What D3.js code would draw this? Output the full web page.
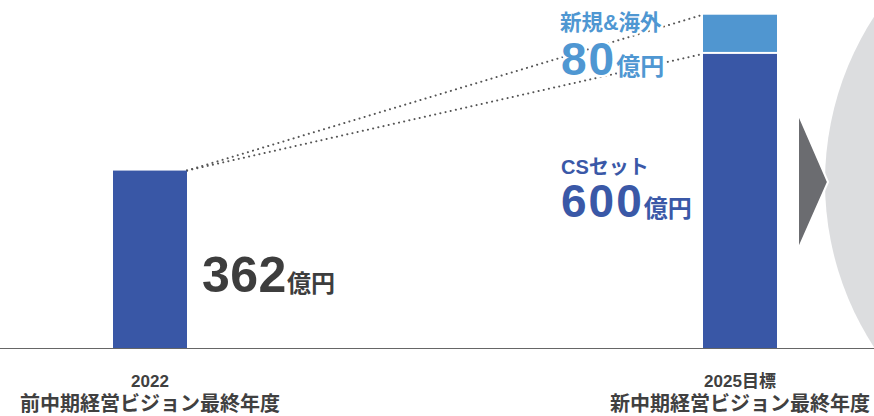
<!DOCTYPE html>
<html>
<head>
<meta charset="utf-8">
<script src="https://cdn.jsdelivr.net/npm/d3@7"></script>
<style>
  body { margin: 0; background: #fff; }
  svg { display: block; }
  text { font-family: "Liberation Sans", "Noto Sans CJK JP", sans-serif; font-weight: bold; }
</style>
</head>
<body>
<svg id="chart" width="874" height="416"></svg>
<script>
// data
var categories = ["2022", "2025"];
var yearLabels = ["2022", "2025目標"];
var visionLabels = ["前中期経営ビジョン最終年度", "新中期経営ビジョン最終年度"];
var csValues = [362, 600];
var newValues = [0, 80];
var unit = "億円";
var segmentNames = ["CSセット", "新規&海外"];

var svg = d3.select("#chart");
var base = 348, barW = 74;

var x = d3.scalePoint().domain(categories).range([150, 740]);
var y = d3.scaleLinear().domain([0, 710]).range([base, 0]);

// grey circle and arrow at the right
svg.append("circle")
    .attr("cx", 1128).attr("cy", 182).attr("r", 303)
    .attr("fill", "#dcdddf");
svg.append("path")
    .attr("d", "M798,113 L828,182 L798,250 Z")
    .attr("fill", "#6b6c70")
    .attr("stroke", "#fff").attr("stroke-width", 2).attr("stroke-linejoin", "miter");

// dotted guide lines
var x0 = x("2022") + barW / 2, y0 = y(csValues[0]);
var x1 = x("2025") - barW / 2;
[csValues[1] + newValues[1], csValues[1]].forEach(function(v) {
    svg.append("line")
        .attr("x1", x0).attr("y1", y0)
        .attr("x2", x1).attr("y2", y(v))
        .attr("stroke", "#555").attr("stroke-width", 2)
        .attr("stroke-dasharray", "0.1,5.2").attr("stroke-linecap", "round");
});

// bars
svg.selectAll("rect.cs").data(categories).enter().append("rect")
    .attr("class", "cs")
    .attr("x", function(d) { return x(d) - barW / 2; })
    .attr("y", function(d, i) { return y(csValues[i]); })
    .attr("width", barW)
    .attr("height", function(d, i) { return base - y(csValues[i]); })
    .attr("fill", "#3957a6");

svg.selectAll("rect.nw").data(categories.filter(function(d, i) { return newValues[i] > 0; }))
    .enter().append("rect")
    .attr("class", "nw")
    .attr("x", function(d) { return x(d) - barW / 2; })
    .attr("y", function(d) { var i = categories.indexOf(d); return y(csValues[i] + newValues[i]); })
    .attr("width", barW)
    .attr("height", function(d) {
        var i = categories.indexOf(d);
        return y(csValues[i]) - y(csValues[i] + newValues[i]) - 2;
    })
    .attr("fill", "#5096d0");

// baseline
svg.append("line")
    .attr("x1", 0).attr("x2", 874).attr("y1", base + 0.5).attr("y2", base + 0.5)
    .attr("stroke", "#666").attr("stroke-width", 1);

// value labels
function valueLabel(px, py, value, color, size, spacing) {
    var t = svg.append("text")
        .attr("x", px).attr("y", py).attr("fill", color)
        .attr("stroke", "#fff").attr("stroke-width", 5)
        .attr("paint-order", "stroke").attr("stroke-linejoin", "round");
    t.append("tspan").attr("font-size", size).attr("letter-spacing", spacing).text(value);
    t.append("tspan").attr("font-size", 24).attr("letter-spacing", 0).text(unit);
}
function nameLabel(px, py, name, color, size) {
    svg.append("text")
        .attr("x", px).attr("y", py).attr("fill", color)
        .attr("font-size", size)
        .attr("stroke", "#fff").attr("stroke-width", 5)
        .attr("paint-order", "stroke").attr("stroke-linejoin", "round")
        .text(name);
}

valueLabel(202, 292, csValues[0], "#3d3d3d", 50, 0.5);
nameLabel(561, 174, segmentNames[0], "#3a58a7", 20);
valueLabel(561, 217, csValues[1], "#3a58a7", 46, 2);
nameLabel(560, 30, segmentNames[1], "#4f97d2", 21.5);
valueLabel(561, 75, newValues[1], "#4f97d2", 46, 2);

// category labels
svg.selectAll("text.year").data(categories).enter().append("text")
    .attr("class", "year")
    .attr("x", function(d) { return x(d); })
    .attr("y", 387)
    .attr("text-anchor", "middle")
    .attr("font-size", 17)
    .attr("fill", "#404040")
    .text(function(d, i) { return yearLabels[i]; });

svg.selectAll("text.vision").data(categories).enter().append("text")
    .attr("class", "vision")
    .attr("x", function(d) { return x(d); })
    .attr("y", 411)
    .attr("text-anchor", "middle")
    .attr("font-size", 20)
    .attr("fill", "#404040")
    .text(function(d, i) { return visionLabels[i]; });
</script>
</body>
</html>
